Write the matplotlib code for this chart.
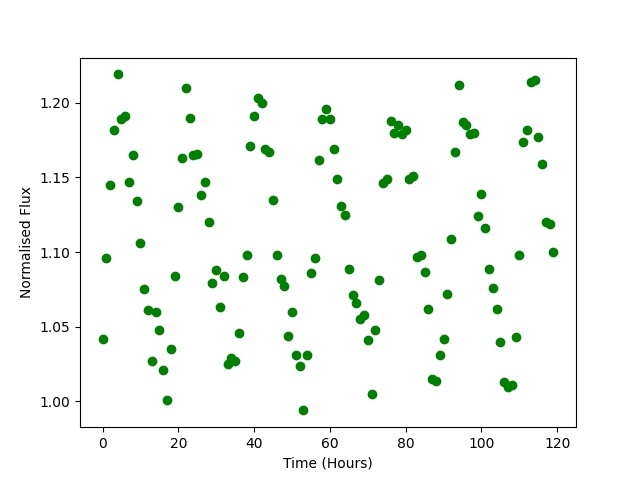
import numpy as np
import matplotlib
matplotlib.use("Agg")
import matplotlib.pyplot as plt

# hours since start
time = np.arange(120)

flux = [
    1.042, 1.096, 1.145, 1.182, 1.219, 1.189, 1.191, 1.147, 1.165, 1.134,
    1.106, 1.075, 1.061, 1.027, 1.060, 1.048, 1.021, 1.001, 1.035, 1.084,
    1.130, 1.163, 1.210, 1.190, 1.165, 1.166, 1.138, 1.147, 1.120, 1.079,
    1.088, 1.063, 1.084, 1.025, 1.029, 1.027, 1.046, 1.083, 1.098, 1.171,
    1.191, 1.203, 1.200, 1.169, 1.167, 1.135, 1.098, 1.082, 1.077, 1.044,
    1.060, 1.031, 1.024, 0.994, 1.031, 1.086, 1.096, 1.162, 1.189, 1.196,
    1.189, 1.169, 1.149, 1.131, 1.125, 1.089, 1.071, 1.066, 1.055, 1.058,
    1.041, 1.005, 1.048, 1.081, 1.146, 1.149, 1.188, 1.180, 1.185, 1.179,
    1.182, 1.149, 1.151, 1.097, 1.098, 1.087, 1.062, 1.015, 1.014, 1.031,
    1.042, 1.072, 1.109, 1.167, 1.212, 1.187, 1.185, 1.179, 1.180, 1.124,
    1.139, 1.116, 1.089, 1.076, 1.062, 1.040, 1.013, 1.010, 1.011, 1.043,
    1.098, 1.174, 1.182, 1.214, 1.215, 1.177, 1.159, 1.120, 1.119, 1.100,
]

plt.figure(figsize=(6.4, 4.8), dpi=100)
plt.scatter(time, flux, color="green")
plt.xlabel("Time (Hours)")
plt.ylabel("Normalised Flux")

plt.savefig("out.png")
